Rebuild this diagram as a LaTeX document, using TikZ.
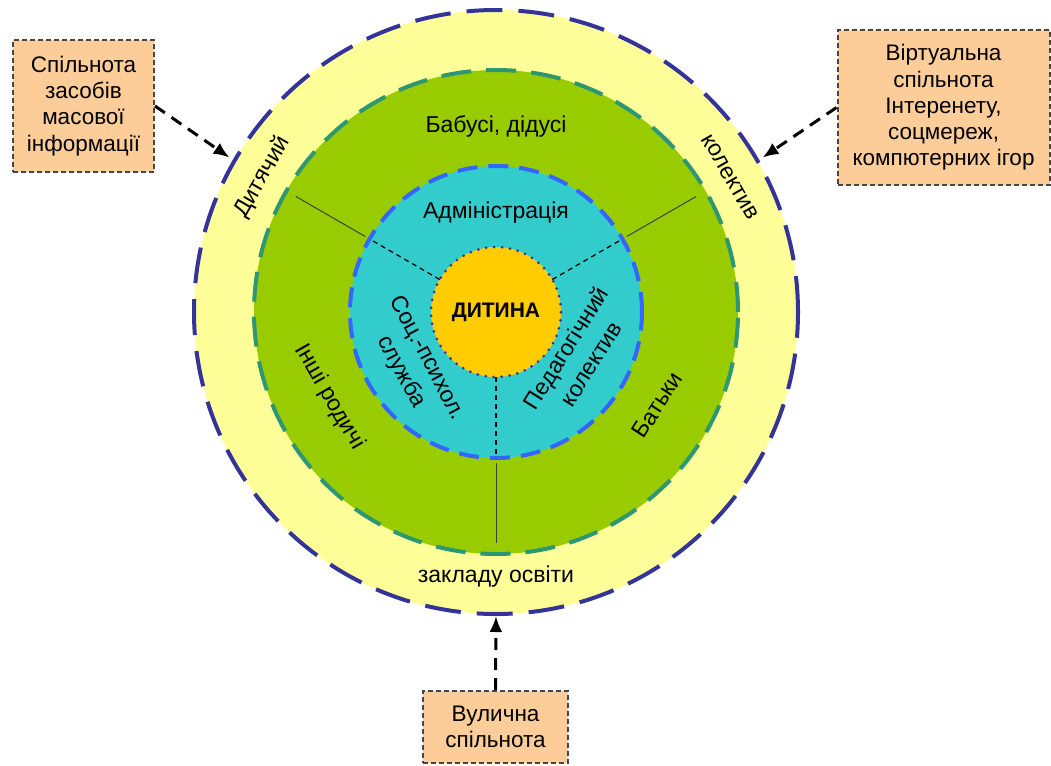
\documentclass[tikz,border=0pt]{standalone}
\usepackage{fontspec}
\setmainfont{Liberation Sans}
\usetikzlibrary{arrows.meta,calc}
\definecolor{ringyellow}{RGB}{255,255,153}
\definecolor{ringgreen}{RGB}{153,204,0}
\definecolor{ringcyan}{RGB}{51,204,204}
\definecolor{coreyellow}{RGB}{255,204,0}
\definecolor{navyline}{RGB}{51,51,153}
\definecolor{tealline}{RGB}{45,150,115}
\definecolor{blueline}{RGB}{51,102,255}
\definecolor{peach}{RGB}{252,204,153}
\definecolor{boxline}{RGB}{70,70,70}
\begin{document}
\begin{tikzpicture}[x=1pt,y=1pt,
  ring/.style={circle, inner sep=0pt, outer sep=0pt},
  lbl/.style={font=\fontsize{23}{27}\selectfont, align=center, inner sep=0pt},
  infobox/.style={draw=boxline, line width=2pt, dash pattern=on 5pt off 3pt, fill=peach, align=center, font=\fontsize{22.5}{26.3}\selectfont, inner sep=0pt},
  arr/.style={line width=3pt, dash pattern=on 12pt off 8pt, -{Latex[length=16pt,width=13pt]}},
  innerdiv/.style={line width=1.3pt, dash pattern=on 5pt off 4pt},
  outerdiv/.style={line width=1pt, draw=black!75},
]
\useasboundingbox (0,0) rectangle (1051,-765);
\coordinate (C) at (496,-312);
% rings
\node[ring, minimum size=604pt, fill=ringyellow, draw=navyline, line width=4pt, dash pattern=on 36pt off 16pt] (outer) at (C) {};
\node[ring, minimum size=484pt, fill=ringgreen, draw=tealline, line width=4pt, dash pattern=on 30pt off 15pt] (green) at (C) {};
\node[ring, minimum size=292pt, fill=ringcyan, draw=blueline, line width=4pt, dash pattern=on 20pt off 11pt] (cyan) at (C) {};
\node[ring, minimum size=130pt, fill=coreyellow, draw=navyline, line width=3pt, dash pattern=on 0pt off 8pt, line cap=round] (core) at (C) {};
% dividers
\foreach \a in {150,30,270}{
  \draw[innerdiv] (core.\a) -- (cyan.\a);
  \coordinate (d1\a) at ($(C)+(\a:151)$);
  \coordinate (d2\a) at ($(C)+(\a:231)$);
  \draw[outerdiv] (d1\a) -- (d2\a);
}
% outer ring texts
\node[lbl, rotate=60] (tdyt) at ($(C)+(150:270)$) {Дитячий};
\node[lbl, rotate=-60] (tkol) at ($(C)+(30:270)$) {колектив};
\node[lbl] (tzak) at ($(C)+(270:265)$) {закладу освіти};
% green ring texts
\node[lbl] (tbab) at ($(C)+(90:186)$) {Бабусі, дідусі};
\node[lbl, rotate=-60] (tinsh) at ($(C)+(207:187)$) {Інші родичі};
\node[lbl, rotate=57] (tbat) at ($(C)+(-30:186)$) {Батьки};
% cyan ring texts
\node[lbl] (tadm) at ($(C)+(90:99)$) {Адміністрація};
\node[lbl, rotate=-62, font=\fontsize{23}{29.5}\selectfont] (tsoc) at ($(C)+(213:98)$) {Соц.-психол.\\служба};
\node[lbl, rotate=58, font=\fontsize{23}{29.5}\selectfont] (tped) at ($(C)+(-28:93)$) {Педагогічний\\колектив};
% core
\node[font=\bfseries\fontsize{21}{24}\selectfont, inner sep=0pt] (tchild) at (C) {ДИТИНА};
% boxes
\node[infobox, minimum width=141pt, minimum height=132pt] (lbox) at (83.5,-106) {Спільнота\\засобів\\масової\\інформації};
\node[infobox, minimum width=212pt, minimum height=155pt] (rbox) at (943.5,-107.5) {Віртуальна\\спільнота\\Інтеренету,\\соцмереж,\\компютерних ігор};
\node[infobox, minimum width=145pt, minimum height=72pt] (bbox) at (495.5,-727) {Вулична\\спільнота};
% arrows
\draw[arr, shorten >=6pt] (lbox.east) -- (outer.150);
\draw[arr, shorten >=6pt] (rbox.west) -- (outer.30);
\draw[arr, shorten >=2pt] (bbox.north) -- (outer.south);
\end{tikzpicture}
\end{document}
